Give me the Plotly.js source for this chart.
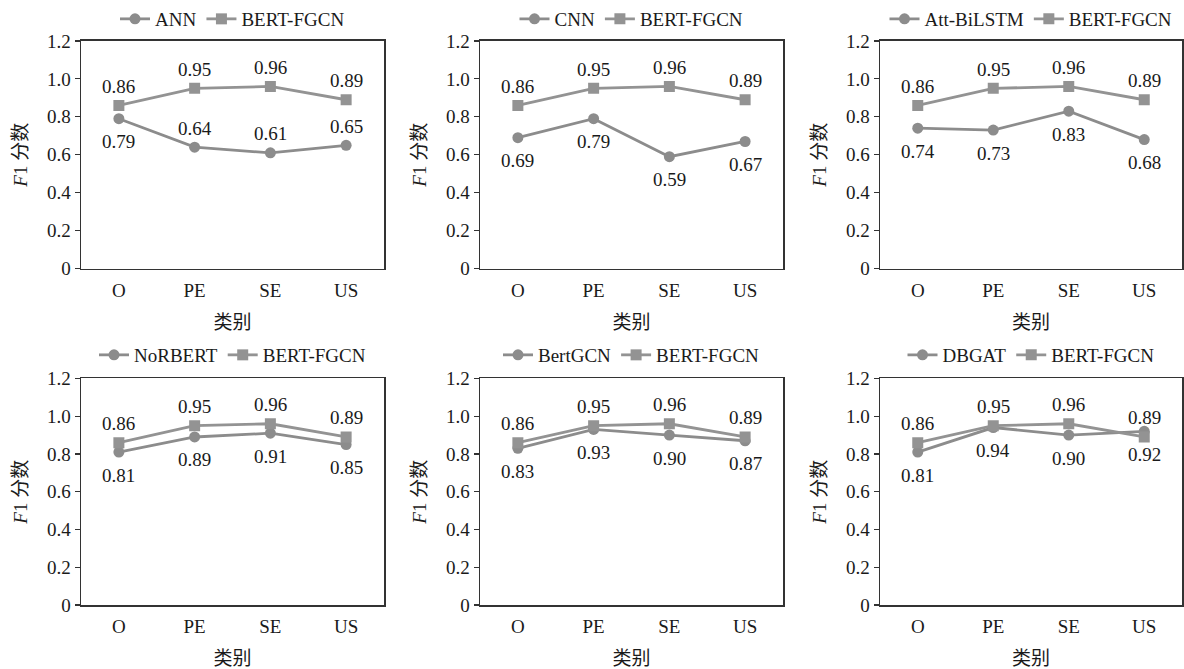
<!DOCTYPE html>
<html>
<head>
<meta charset="utf-8">
<script src="https://cdn.plot.ly/plotly-3.0.1.min.js"></script>
<style>html,body{margin:0;padding:0;background:#fff;}#chart{width:1184px;height:669px;}</style>
</head>
<body>
<div id="chart"></div>
<script>
var categories = ['O', 'PE', 'SE', 'US'];
var bertFgcn = [0.86, 0.95, 0.96, 0.89];
var baselineNames = ['ANN', 'CNN', 'Att-BiLSTM', 'NoRBERT', 'BertGCN', 'DBGAT'];
var annScores = [0.79, 0.64, 0.61, 0.65];
var cnnScores = [0.69, 0.79, 0.59, 0.67];
var attBiLstmScores = [0.74, 0.73, 0.83, 0.68];
var noRbertScores = [0.81, 0.89, 0.91, 0.85];
var bertGcnScores = [0.83, 0.93, 0.90, 0.87];
var dbgatScores = [0.81, 0.94, 0.90, 0.92];
var baselineScores = [annScores, cnnScores, attBiLstmScores, noRbertScores, bertGcnScores, dbgatScores];
// whether each baseline value label sits above (true) or below (false) its point
var baselineLabelAbove = [
  [false, true, true, true],
  [false, false, false, false],
  [false, false, false, false],
  [false, false, false, false],
  [false, false, false, false],
  [false, false, false, false]
];
var yTickVals = [0, 0.2, 0.4, 0.6, 0.8, 1.0, 1.2];
var yTickText = ['0', '0.2', '0.4', '0.6', '0.8', '1.0', '1.2'];

var W = 1184, H = 669;
var colX = [[81, 384], [480, 783], [880, 1182]];
var rowY = [[40, 268], [378, 605]];
var legendY = [18, 355];

var serif = 'Liberation Serif, Times New Roman, serif';
var cjk = 'Liberation Serif, Noto Sans CJK SC, serif';
var lineCol = '#8c8c8c';
var sqCol = '#939393';
var textCol = '#1a1a1a';

var traces = [];
var layout = {
  width: W, height: H,
  margin: {l: 0, r: 0, t: 0, b: 0},
  paper_bgcolor: '#ffffff',
  plot_bgcolor: '#ffffff',
  font: {family: serif, size: 19, color: textCol},
  annotations: []
};

function fmt(v) { return v.toFixed(2); }

for (var i = 0; i < 6; i++) {
  var r = Math.floor(i / 3), c = i % 3;
  var n = i + 1;
  var xa = 'x' + (n === 1 ? '' : n), ya = 'y' + (n === 1 ? '' : n);
  var xk = 'xaxis' + (n === 1 ? '' : n), yk = 'yaxis' + (n === 1 ? '' : n);
  var lk = 'legend' + (n === 1 ? '' : n);
  var x0 = colX[c][0] / W, x1 = colX[c][1] / W;
  var y0 = 1 - rowY[r][1] / H, y1 = 1 - rowY[r][0] / H;

  layout[xk] = {
    domain: [x0, x1], anchor: ya, type: 'category',
    categoryorder: 'array', categoryarray: categories,
    range: [-0.5, 3.5], fixedrange: true,
    showline: true, mirror: true, linecolor: '#333333', linewidth: 1.5,
    ticks: '', showgrid: false, zeroline: false,
    tickfont: {family: serif, size: 19, color: textCol},
    ticklabelstandoff: 4,
    title: {text: '类别', font: {family: cjk, size: 19, color: textCol}, standoff: 16}
  };
  layout[yk] = {
    domain: [y0, y1], anchor: xa,
    range: [0, 1.2], fixedrange: true,
    tickvals: yTickVals, ticktext: yTickText,
    showline: true, mirror: true, linecolor: '#333333', linewidth: 1.5,
    ticks: 'outside', ticklen: 5, tickwidth: 1.2, tickcolor: '#333333',
    showgrid: false, zeroline: false,
    tickfont: {family: serif, size: 19, color: textCol},
    title: {text: '<i>F</i>1 分数', font: {family: cjk, size: 19, color: textCol}, standoff: 14}
  };
  layout[lk] = {
    orientation: 'h', x: (colX[c][0] + colX[c][1]) / 2 / W, xanchor: 'center',
    y: 1 - legendY[r] / H, yanchor: 'middle',
    font: {family: serif, size: 19, color: textCol},
    bgcolor: 'rgba(0,0,0,0)', itemwidth: 30, tracegroupgap: 0,
    itemclick: false, itemdoubleclick: false
  };

  var base = baselineScores[i];
  traces.push({
    type: 'scatter', mode: 'lines+markers', name: baselineNames[i],
    x: categories, y: base, xaxis: xa, yaxis: ya, legend: lk,
    line: {color: lineCol, width: 2.8},
    marker: {symbol: 'circle', size: 11, color: lineCol},
    hoverinfo: 'skip'
  });
  traces.push({
    type: 'scatter', mode: 'lines+markers', name: 'BERT-FGCN',
    x: categories, y: bertFgcn, xaxis: xa, yaxis: ya, legend: lk,
    line: {color: sqCol, width: 2.8},
    marker: {symbol: 'square', size: 11, color: sqCol},
    hoverinfo: 'skip'
  });
  for (var k = 0; k < categories.length; k++) {
    var above = baselineLabelAbove[i][k];
    layout.annotations.push({
      xref: xa, yref: ya, x: categories[k], y: base[k],
      text: fmt(base[k]), showarrow: false,
      xanchor: 'center', yanchor: 'middle', yshift: above ? 19 : -23,
      font: {family: serif, size: 19, color: textCol}
    });
    layout.annotations.push({
      xref: xa, yref: ya, x: categories[k], y: bertFgcn[k],
      text: fmt(bertFgcn[k]), showarrow: false,
      xanchor: 'center', yanchor: 'middle', yshift: 19,
      font: {family: serif, size: 19, color: textCol}
    });
  }
}

Plotly.newPlot('chart', traces, layout, {staticPlot: true, displayModeBar: false});
</script>
</body>
</html>
